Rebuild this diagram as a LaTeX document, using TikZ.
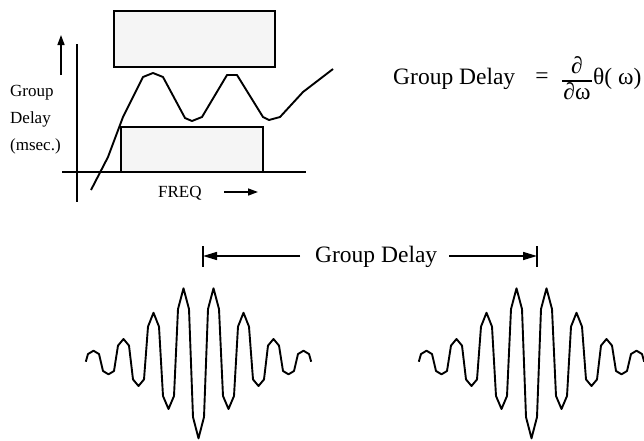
\documentclass[tikz,border=0pt]{standalone}
\usepackage{fontspec}
\setmainfont{Liberation Serif}
\usetikzlibrary{arrows.meta}

\tikzset{
  curveline/.style={line width=1.9pt, line join=round},
  axisline/.style={line width=1.5pt},
  boxfill/.style={draw, line width=1.5pt, fill=black!4},
  sidetext/.style={font=\fontsize{17}{19}\selectfont, anchor=base west, inner sep=0pt},
  bigtext/.style={font=\fontsize{23.5}{26}\selectfont, inner sep=0pt},
  smalltip/.style={line width=1.5pt, -{Triangle[length=10pt,width=7pt]}},
  dimtip/.style={line width=1.5pt, -{Triangle[length=14pt,width=8pt]}}
}

% one wave packet, centred at x = #1
\newcommand{\wavepacket}[1]{%
  \draw[curveline] ({#1-112.7},361.7)
    \foreach \k/\a in {-7/-11.8,-6/11.8,-5/-23.5,-4/23.5,-3/-49.8,-2/46.5,-1/-74.2,0/75.8,
                       1/-74.2,2/46.5,3/-49.8,4/23.5,5/-23.5,6/11.8,7/-11.8}
    { -- ({#1+15*\k-5.5},{362.5+0.72*(\a)})
      -- ({#1+15*\k},{362.5+\a})
      -- ({#1+15*\k+5.5},{362.5+0.72*(\a)}) }
    -- ({#1+112.7},361.7);
}

\begin{document}
\begin{tikzpicture}[x=1pt, y=-1pt]
  \path[use as bounding box, clip] (0,0) rectangle (644,440);

  % group delay response
  \draw[boxfill] (114,11) rectangle (275,67);
  \draw[boxfill] (121,127) rectangle (263,172);
  \draw[axisline] (77,44) -- (77,202);
  \draw[axisline] (62,172) -- (306,172);
  \draw[curveline] (91,190) -- (108,157) -- (123,117) -- (143,77) -- (153,73) -- (163,77)
    -- (185,118) -- (192,121) -- (202,117) -- (227,75) -- (237,75) -- (263,117)
    -- (269,120) -- (280,117) -- (303,92) -- (333,69);

  \coordinate (upfrom) at (61,75);
  \coordinate (upto) at (61,35);
  \draw[smalltip] (upfrom) -- (upto);

  \node[sidetext] (ygroup) at (10,96) {Group};
  \node[sidetext] (ydelay) at (10,123) {Delay};
  \node[sidetext] (yunit) at (10,150) {(msec.)};

  \node[sidetext] (xfreq) at (158,197) {FREQ};
  \coordinate (freqto) at (258,192);
  \draw[smalltip] (224,192) -- (freqto);

  % definition
  \node[bigtext, anchor=base west] (gdname) at (393,84) {Group Delay};
  \node[bigtext] (equals) at (542,78) {=};
  \node[bigtext, anchor=base] (dnum) at (577,73) {∂};
  \node[bigtext, anchor=base] (dden) at (577,99) {∂ω};
  \draw[line width=1.8pt] (562,81) -- (592,81);
  \node[bigtext, anchor=base west] (theta) at (593,84) {θ( ω)};

  % delay between packets
  \coordinate (dimL) at (203,256);
  \coordinate (dimR) at (537,256);
  \node[bigtext, anchor=base west] (dimlbl) at (315,262) {Group Delay};
  \draw[dimtip] ([xshift=-15pt]dimlbl.west |- dimL) -- (dimL);
  \draw[dimtip] ([xshift=12pt]dimlbl.east |- dimR) -- (dimR);
  \draw[axisline] (dimL) ++(0,-10) -- ++(0,21);
  \draw[axisline] (dimR) ++(0,-10) -- ++(0,21);

  \wavepacket{198.5}
  \wavepacket{531.5}
\end{tikzpicture}
\end{document}
